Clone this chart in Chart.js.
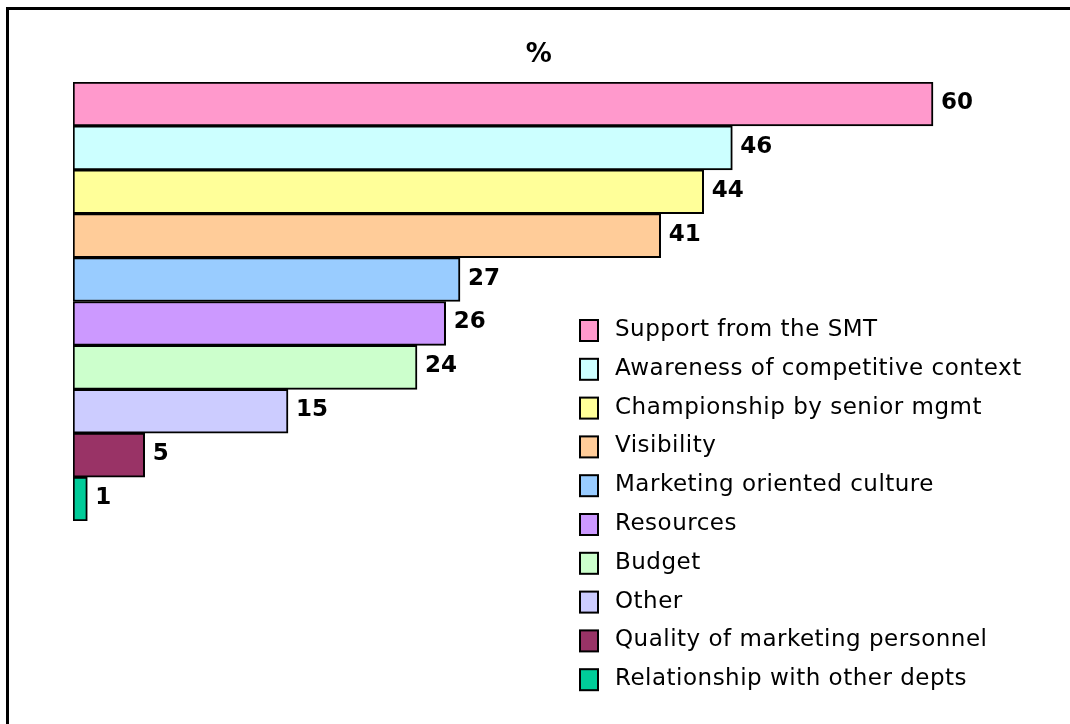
<!DOCTYPE html>
<html>
<head>
<meta charset="utf-8">
<script src="https://cdn.jsdelivr.net/npm/chart.js@4.4.1/dist/chart.umd.min.js"></script>
<style>
  html, body { margin: 0; padding: 0; background: #fff; overflow: hidden; }
  canvas { display: block; }
</style>
</head>
<body>
<canvas id="c" width="1070" height="724"></canvas>
<script>
const categories = [
  "Support from the SMT",
  "Awareness of competitive context",
  "Championship by senior mgmt",
  "Visibility",
  "Marketing oriented culture",
  "Resources",
  "Budget",
  "Other",
  "Quality of marketing personnel",
  "Relationship with other depts"
];
const values = [60, 46, 44, 41, 27, 26, 24, 15, 5, 1];
const colors = ["#FF99CC", "#CCFFFF", "#FFFF99", "#FFCC99", "#99CCFF",
                "#CC99FF", "#CCFFCC", "#CCCCFF", "#993366", "#00CC99"];
const titleText = "%";

const FONT = "'DejaVu Sans', Verdana, sans-serif";

const framePlugin = {
  id: 'frame',
  beforeDraw(chart) {
    const ctx = chart.ctx;
    ctx.save();
    ctx.fillStyle = '#fff';
    ctx.fillRect(0, 0, chart.width, chart.height);
    ctx.strokeStyle = '#000';
    ctx.lineWidth = 3;
    ctx.beginPath();
    ctx.moveTo(7.5, chart.height + 5);
    ctx.lineTo(7.5, 8.5);
    ctx.lineTo(chart.width + 5, 8.5);
    ctx.stroke();
    ctx.restore();
  }
};

const labelPlugin = {
  id: 'valueLabels',
  afterDatasetsDraw(chart) {
    const ctx = chart.ctx;
    const meta = chart.getDatasetMeta(0);
    ctx.save();
    ctx.font = "bold 23px " + FONT;
    ctx.fillStyle = '#000';
    ctx.textAlign = 'left';
    ctx.textBaseline = 'middle';
    meta.data.forEach((bar, i) => {
      ctx.fillText(String(values[i]), bar.x + 8, bar.y - 1);
    });
    ctx.restore();
  }
};

const legendPlugin = {
  id: 'customLegend',
  afterDraw(chart) {
    const ctx = chart.ctx;
    ctx.save();
    ctx.font = "23px " + FONT;
    try { ctx.letterSpacing = '0.5px'; } catch (e) {}
    ctx.textAlign = 'left';
    ctx.textBaseline = 'middle';
    const x0 = 580, y0 = 330, step = 38.8;
    categories.forEach((c, i) => {
      const y = y0 + i * step;
      ctx.fillStyle = colors[i];
      ctx.fillRect(x0, y - 10, 18, 21);
      ctx.strokeStyle = '#000';
      ctx.lineWidth = 2;
      ctx.strokeRect(x0, y - 10, 18, 21);
      ctx.fillStyle = '#000';
      ctx.fillText(c, 615, y);
    });
    ctx.restore();
  }
};

new Chart(document.getElementById('c'), {
  type: 'bar',
  data: {
    labels: categories,
    datasets: [{
      data: values,
      backgroundColor: colors,
      borderColor: '#000',
      borderWidth: 2,
      borderSkipped: false,
      categoryPercentage: 1.0,
      barPercentage: 1.0
    }]
  },
  options: {
    indexAxis: 'y',
    responsive: false,
    animation: false,
    layout: { padding: { left: 73, right: 65.33, top: 0, bottom: 203 } },
    scales: {
      x: { display: false, min: 0, max: 65 },
      y: { display: false }
    },
    plugins: {
      legend: { display: false },
      tooltip: { enabled: false },
      title: {
        display: true,
        text: titleText,
        color: '#000',
        font: { family: FONT, size: 26, weight: 'bold' },
        padding: { top: 40, bottom: 10.8 }
      }
    }
  },
  plugins: [framePlugin, labelPlugin, legendPlugin]
});
</script>
</body>
</html>
